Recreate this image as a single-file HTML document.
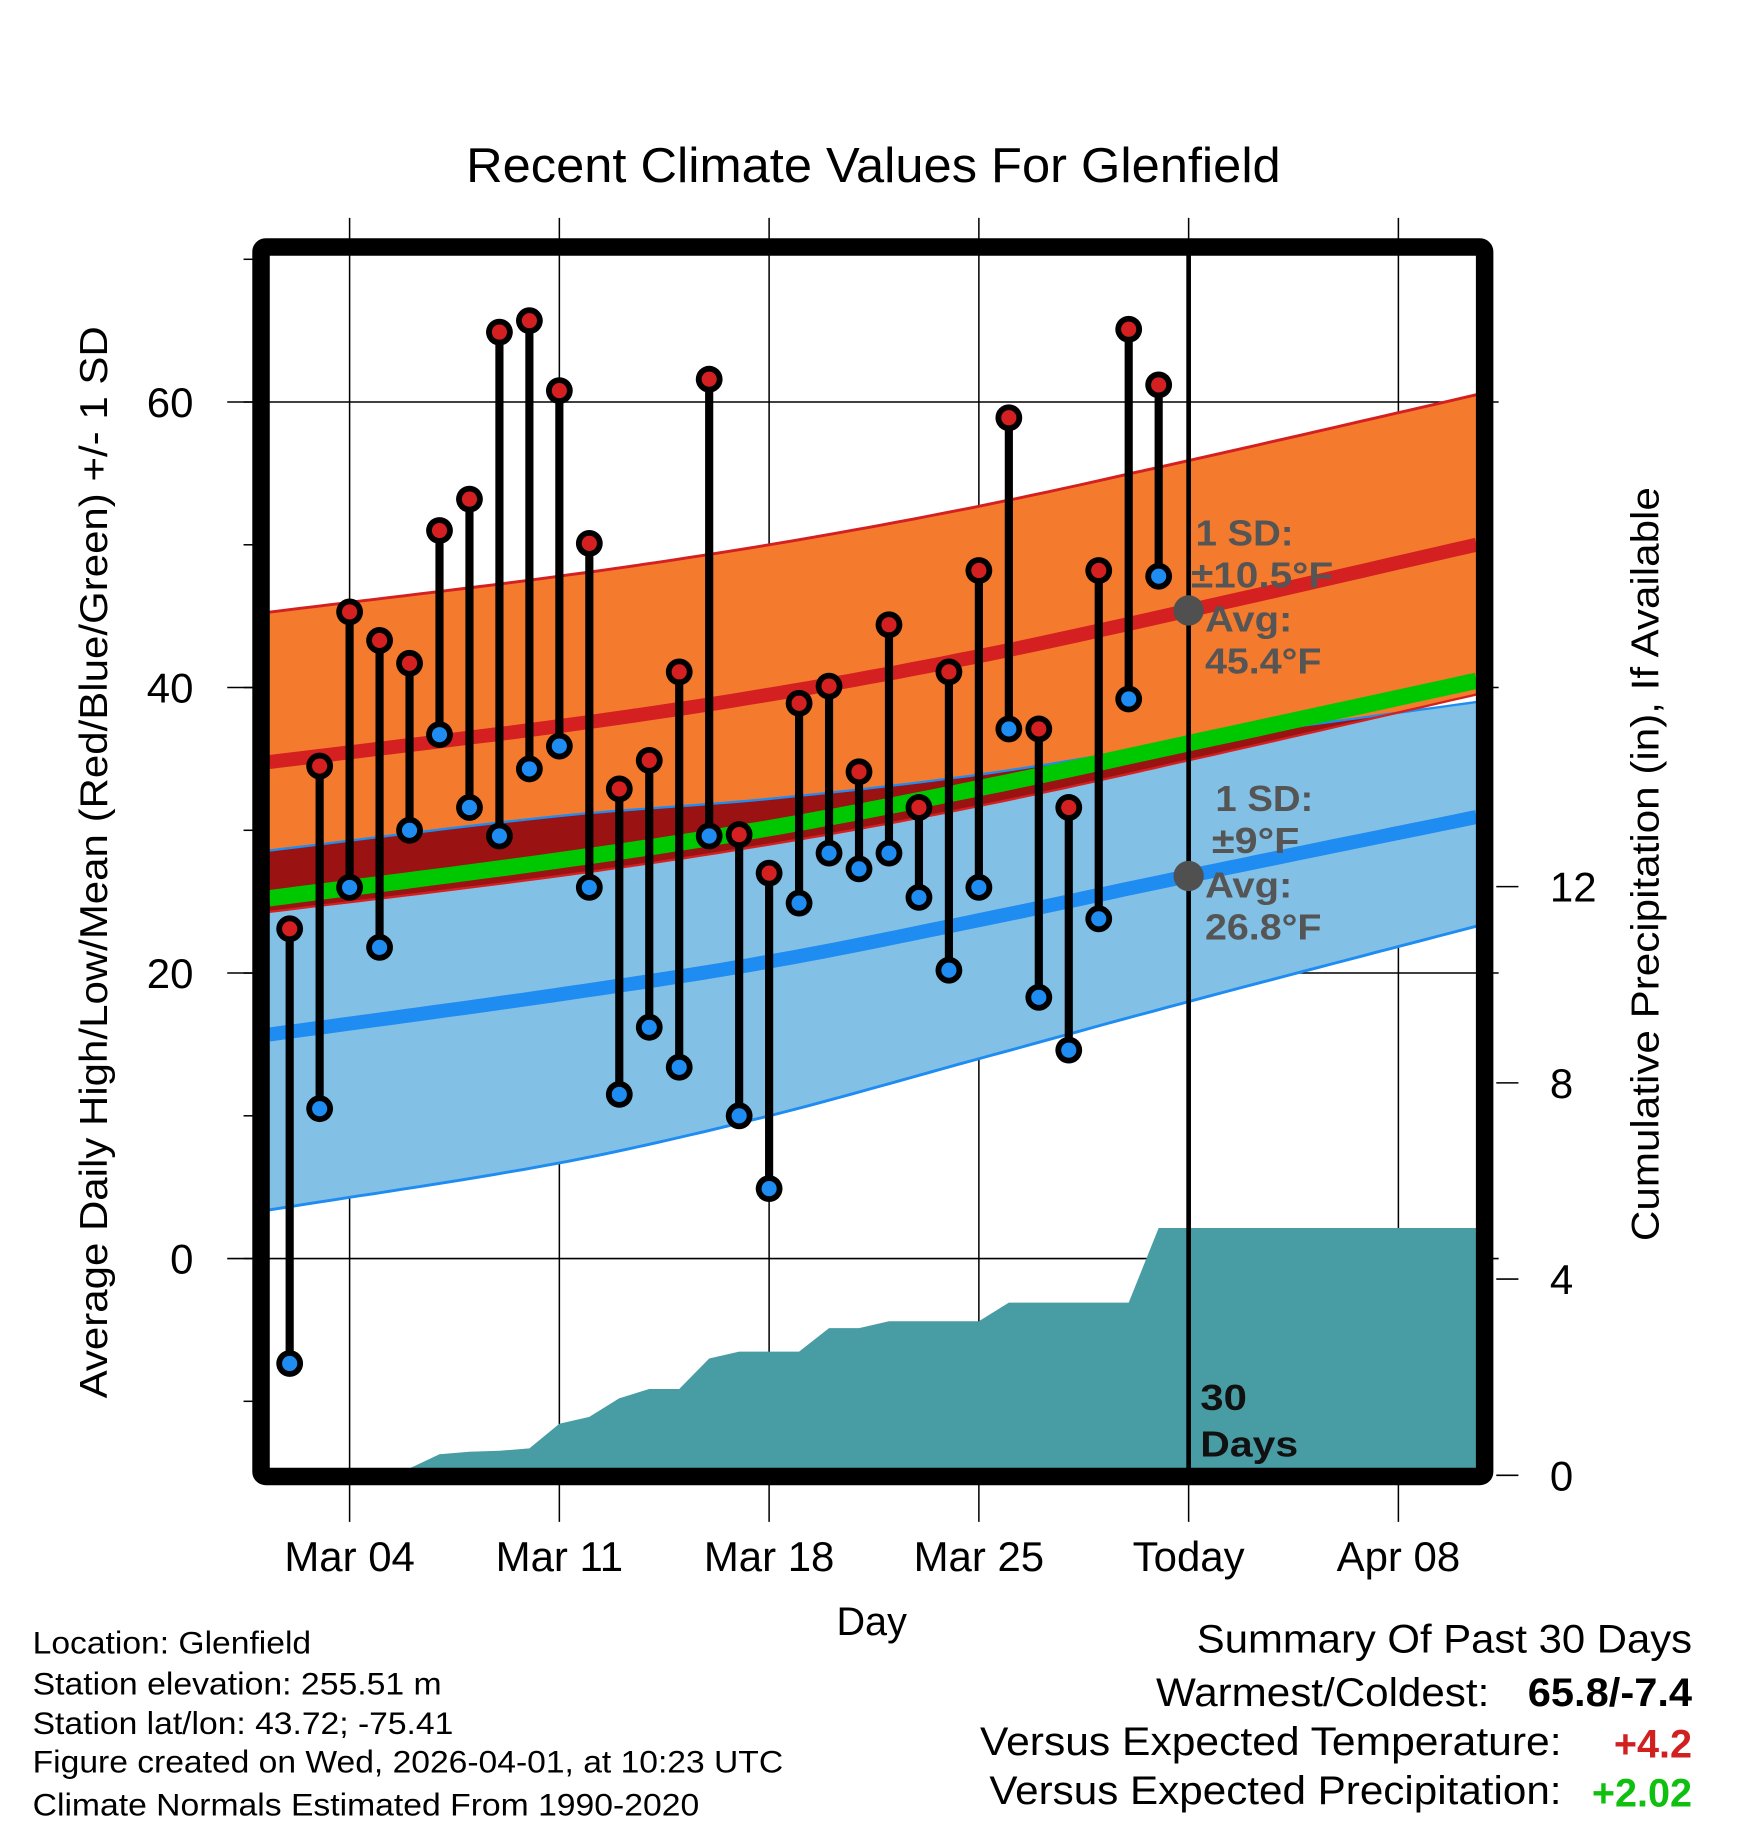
<!DOCTYPE html>
<html><head><meta charset="utf-8"><style>
html,body{margin:0;padding:0;background:#fff}
svg{display:block;font-family:"Liberation Sans",Arial,sans-serif}
</style></head><body>
<svg id="chart" width="1748" height="1828" viewBox="0 0 1500 1568.65" preserveAspectRatio="none" xmlns="http://www.w3.org/2000/svg">
<text x="400" y="156" font-size="42" textLength="699" lengthAdjust="spacingAndGlyphs">Recent Climate Values For Glenfield</text>
<g id="grid"></g>
<g id="plot"></g>
<text transform="translate(92,1200) rotate(-90)" font-size="33" textLength="920" lengthAdjust="spacingAndGlyphs">Average Daily High/Low/Mean (Red/Blue/Green) +/- 1 SD</text>
<text transform="translate(1423,1065) rotate(-90)" font-size="33" textLength="647" lengthAdjust="spacingAndGlyphs">Cumulative Precipitation (in), If Available</text>
<text x="748" y="1403" font-size="34" text-anchor="middle">Day</text>
<g font-size="27" lengthAdjust="spacingAndGlyphs">
<text x="28" y="1419" textLength="239" lengthAdjust="spacingAndGlyphs">Location: Glenfield</text>
<text x="28" y="1454" textLength="351" lengthAdjust="spacingAndGlyphs">Station elevation: 255.51 m</text>
<text x="28" y="1488" textLength="361" lengthAdjust="spacingAndGlyphs">Station lat/lon: 43.72; -75.41</text>
<text x="28" y="1521" textLength="644" lengthAdjust="spacingAndGlyphs">Figure created on Wed, 2026-04-01, at 10:23 UTC</text>
<text x="28" y="1558" textLength="572" lengthAdjust="spacingAndGlyphs">Climate Normals Estimated From 1990-2020</text>
</g>
<g font-size="34">
<text x="1027" y="1418" textLength="425" lengthAdjust="spacingAndGlyphs">Summary Of Past 30 Days</text>
<text x="992" y="1464" textLength="286" lengthAdjust="spacingAndGlyphs">Warmest/Coldest:</text>
<text x="1311" y="1464" font-weight="bold" textLength="141" lengthAdjust="spacingAndGlyphs">65.8/-7.4</text>
<text x="841" y="1506" textLength="499" lengthAdjust="spacingAndGlyphs">Versus Expected Temperature:</text>
<text x="1452" y="1508" font-weight="bold" fill="#d02020" text-anchor="end">+4.2</text>
<text x="849" y="1548" textLength="491" lengthAdjust="spacingAndGlyphs">Versus Expected Precipitation:</text>
<text x="1452" y="1550" font-weight="bold" fill="#10c010" text-anchor="end">+2.02</text>
</g>
</svg>
<script>
// ---- data ----
const obsDays = [2,3,4,5,6,7,8,9,10,11,12,13,14,15,16,17,18,19,20,21,22,23,24,25,26,27,28,29,30,31];
const highs = [23.1,34.5,45.3,43.3,41.7,51.0,53.2,64.9,65.7,60.8,50.1,32.9,34.9,41.1,61.6,29.7,27.0,38.9,40.1,34.1,44.4,31.6,41.1,48.2,58.9,37.1,31.6,48.2,65.1,61.2];
const lows = [-7.35,10.5,26.0,21.8,30.0,36.7,31.6,29.6,34.3,35.9,26.0,11.5,16.2,13.4,29.6,10.0,4.9,24.9,28.4,27.3,28.4,25.3,20.2,26.0,37.1,18.3,14.6,23.8,39.2,47.8];
const precip = [0,0,0,0,0,0.43,0.48,0.5,0.55,1.05,1.19,1.57,1.76,1.76,2.38,2.52,2.52,2.52,3.0,3.0,3.14,3.14,3.14,3.14,3.52,3.52,3.52,3.52,3.52,5.04];
const normDays = [1,11,18,25,32,42];
const normHigh = [34.7,37.3,39.5,42.2,45.4,50.2];
const highSD = 10.5;
const normLow = [15.6,18.5,20.8,23.7,26.8,31.1];
const lowUpper = [28.5,31.0,32.2,33.9,36.2,39.1];
const lowLower = [3.3,6.7,10.0,14.0,18.0,23.5];
const yTicks = [0,20,40,60];
const pTicks = [0,4,8,12];
const xTickDays = [4,11,18,25,32,39];
const xTickLabels = ["Mar 04","Mar 11","Mar 18","Mar 25","Today","Apr 08"];
// ---- scales ----
const L=231,R=1267,T=219,B=1260;
const xS = d => 300 + (d-4)*25.714;
const yS = v => 1080 - v*12.25;
const pS = p => 1266 - p*42.1;
const dMin=(L-300)/25.714+4, dMax=(R-300)/25.714+4;
const NS="http://www.w3.org/2000/svg";
function mk(tag,attrs,parent){const e=document.createElementNS(NS,tag);for(const k in attrs)e.setAttribute(k,attrs[k]);parent.appendChild(e);return e;}
// smooth interpolation (monotone-ish cubic via Catmull-Rom)
function interp(xs,ys,x){const n=xs.length;let i=0;while(i<n-2&&x>xs[i+1])i++;
const x0=xs[i],x1=xs[i+1],y0=ys[i],y1=ys[i+1];const t=(x-x0)/(x1-x0);
const m0=i>0?(ys[i+1]-ys[i-1])/(xs[i+1]-xs[i-1]):(y1-y0)/(x1-x0);
const m1=i<n-2?(ys[i+2]-ys[i])/(xs[i+2]-xs[i]):(y1-y0)/(x1-x0);
const h=x1-x0,t2=t*t,t3=t2*t;
return (2*t3-3*t2+1)*y0+(t3-2*t2+t)*h*m0+(-2*t3+3*t2)*y1+(t3-t2)*h*m1;}
const samp=[];for(let d=dMin;d<dMax;d+=0.5)samp.push(d);samp.push(dMax);
const line=f=>samp.map(d=>xS(d).toFixed(1)+","+yS(f(d)).toFixed(1));
const band=(fu,fl)=>line(fu).concat(line(fl).reverse()).join(" ");
const hi=d=>interp(normDays,normHigh,d), lo=d=>interp(normDays,normLow,d);
const grid=document.getElementById('grid'), plot=document.getElementById('plot'), svg=document.getElementById('chart');
yTicks.forEach(v=>{const g=mk('line',{x1:195,x2:1286,y1:yS(v),y2:yS(v),stroke:'#000','stroke-width':1.3},grid);


const t=mk('text',{x:166,y:yS(v)+13,'font-size':36,'text-anchor':'end'},svg);t.textContent=v;

});
for(let v=-10;v<=70;v+=10){const m=mk('line',{x1:209,x2:222,y1:yS(v),y2:yS(v),stroke:'#000','stroke-width':1.3},grid);

}
xTickDays.forEach((d,i)=>{const g=mk('line',{x1:xS(d),x2:xS(d),y1:187,y2:1306,stroke:'#000','stroke-width':1.3},grid);


const t=mk('text',{x:xS(d),y:1348,'font-size':36,'text-anchor':'middle'},svg);t.textContent=xTickLabels[i];

});
pTicks.forEach(p=>{const m=mk('line',{x1:1284,x2:1303,y1:pS(p),y2:pS(p),stroke:'#000','stroke-width':1.3},grid);


const t=mk('text',{x:1330,y:pS(p)+13,'font-size':36,'text-anchor':'start'},svg);t.textContent=p;

});
let e=mk('polygon',{points:band(d=>hi(d)+highSD,d=>hi(d)-highSD),fill:'#f47a2e'},plot);


e=mk('polyline',{points:line(d=>hi(d)+highSD).join(" "),fill:'none',stroke:'#d42020','stroke-width':2.5},plot);


const lu=d=>interp(normDays,lowUpper,d), ll=d=>interp(normDays,lowLower,d);
e=mk('polygon',{points:band(lu,ll),fill:'#82c0e6'},plot);


e=mk('polygon',{points:band(d=>Math.max(lu(d),hi(d)-highSD),d=>hi(d)-highSD),fill:'#9a1212'},plot);


e=mk('polyline',{points:line(lu).join(" "),fill:'none',stroke:'#1e8cf0','stroke-width':2},plot);


e=mk('polyline',{points:line(ll).join(" "),fill:'none',stroke:'#1e8cf0','stroke-width':2.5},plot);


e=mk('polyline',{points:line(d=>hi(d)-highSD).join(" "),fill:'none',stroke:'#d42020','stroke-width':2},plot);


e=mk('polyline',{points:line(d=>(hi(d)+lo(d))/2).join(" "),fill:'none',stroke:'#00c800','stroke-width':14},plot);


e=mk('polyline',{points:line(hi).join(" "),fill:'none',stroke:'#d42020','stroke-width':12},plot);


e=mk('polyline',{points:line(lo).join(" "),fill:'none',stroke:'#1e8cf0','stroke-width':12},plot);


const pp=[L+","+B, L+","+pS(precip[0])];
obsDays.forEach((d,i)=>pp.push(xS(d)+","+Math.min(B,pS(precip[i]))));
pp.push(R+","+pS(precip[precip.length-1]), R+","+B);
e=mk('polygon',{points:pp.join(" "),fill:'#489ca4'},plot);


obsDays.forEach((d,i)=>{const x=xS(d);
const s=mk('line',{x1:x,x2:x,y1:yS(highs[i]),y2:yS(lows[i]),stroke:'#000','stroke-width':7},plot);


[[highs[i],'#d42020','high-point'],[lows[i],'#1e8cf0','low-point']].forEach(([v,c,n])=>{
const o=mk('circle',{cx:x,cy:yS(v),r:11.5,fill:'#000'},plot);


const p=mk('circle',{cx:x,cy:yS(v),r:6.5,fill:c},plot);

});});
const tx=xS(32);
e=mk('line',{x1:tx,x2:tx,y1:T,y2:B,stroke:'#000','stroke-width':4},plot);


[[hi(32),'high-avg-marker'],[lo(32),'low-avg-marker']].forEach(([v,n])=>{const c=mk('circle',{cx:tx,cy:yS(v),r:13,fill:'#505050'},plot);

});
function txt(x,y,s,sz,fill,name,len){const t=mk('text',{x:x,y:y,'font-size':sz,'font-weight':'bold',fill:fill},svg);t.textContent=s;
if(len){t.setAttribute('textLength',len);t.setAttribute('lengthAdjust','spacingAndGlyphs');}

return t;}
txt(1026,468,'1 SD:',31,'#555','high-sd-label',84);
txt(1022,504,'±10.5°F',31,'#555','high-sd-value',122);
txt(1034,542,'Avg:',31,'#555','high-avg-label',75);
txt(1034,578,'45.4°F',31,'#555','high-avg-value',100);
txt(1043,696,'1 SD:',31,'#555','low-sd-label',84);
txt(1040,732,'±9°F',31,'#555','low-sd-value',75);
txt(1034,770,'Avg:',31,'#555','low-avg-label',75);
txt(1034,806,'26.8°F',31,'#555','low-avg-value',100);
txt(1030,1210,'30',31,'#111','days-label-number',40);
txt(1030,1250,'Days',31,'#111','days-label-text',84);
e=mk('rect',{x:L-7,y:T-7,width:R-L+14,height:B-T+14,fill:'none',stroke:'#000','stroke-width':15,rx:4},svg);


</script>
</body></html>
